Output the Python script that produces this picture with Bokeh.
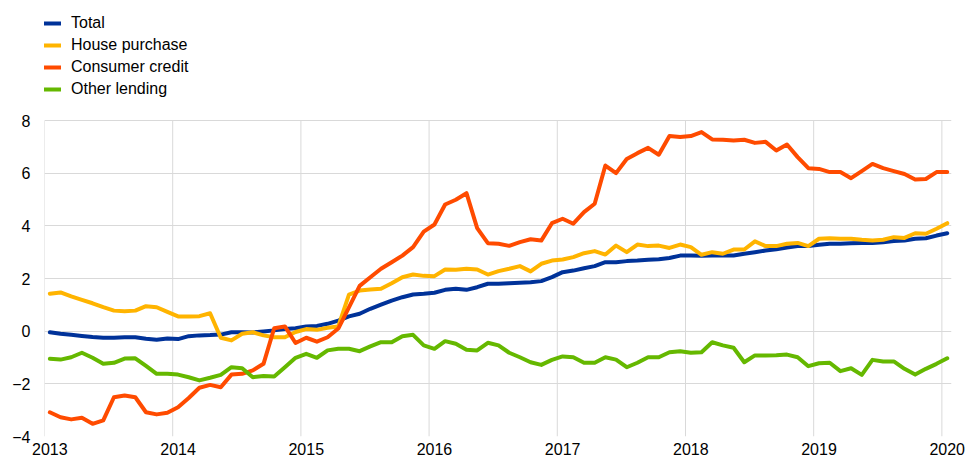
from bokeh.plotting import figure
from bokeh.models import FixedTicker, Legend, LegendItem, Range1d
from bokeh.embed import file_html
from bokeh.resources import INLINE

# ---- data (monthly, Jan 2013 - Jan 2020, annual growth rates in %) ----
start_year = 2013
year_ticks = [2013, 2014, 2015, 2016, 2017, 2018, 2019, 2020]
year_labels = ["2013", "2014", "2015", "2016", "2017", "2018", "2019", "2020"]
y_ticks = [-4, -2, 0, 2, 4, 6, 8]

series_names = ["Total", "House purchase", "Consumer credit", "Other lending"]

total = [
    -0.04, -0.10, -0.14, -0.18, -0.22, -0.25, -0.25, -0.23, -0.23, -0.29, -0.33, -0.28,
    -0.30, -0.19, -0.16, -0.15, -0.13, -0.04, -0.04, -0.05, -0.01, 0.03, 0.08, 0.11,
    0.18, 0.20, 0.28, 0.40, 0.56, 0.66, 0.85, 1.01, 1.16, 1.29, 1.39, 1.42,
    1.46, 1.57, 1.61, 1.57, 1.67, 1.80, 1.80, 1.82, 1.84, 1.86, 1.90, 2.05,
    2.24, 2.30, 2.39, 2.47, 2.62, 2.62, 2.66, 2.68, 2.71, 2.73, 2.78, 2.87,
    2.87, 2.86, 2.87, 2.87, 2.87, 2.94, 3.00, 3.06, 3.11, 3.18, 3.23, 3.23,
    3.28, 3.32, 3.32, 3.34, 3.35, 3.35, 3.38, 3.42, 3.44, 3.51, 3.53, 3.63,
    3.72,
]

house_purchase = [
    1.42, 1.47, 1.32, 1.19, 1.06, 0.91, 0.78, 0.76, 0.78, 0.95, 0.91, 0.73,
    0.56, 0.56, 0.57, 0.68, -0.25, -0.35, -0.10, -0.04, -0.16, -0.23, -0.23, -0.03,
    0.08, 0.05, 0.13, 0.18, 1.39, 1.54, 1.58, 1.61, 1.82, 2.05, 2.15, 2.10,
    2.09, 2.34, 2.33, 2.37, 2.34, 2.15, 2.28, 2.37, 2.47, 2.27, 2.56, 2.68,
    2.72, 2.81, 2.96, 3.04, 2.91, 3.25, 3.00, 3.29, 3.23, 3.25, 3.16, 3.29,
    3.19, 2.90, 3.00, 2.94, 3.10, 3.10, 3.41, 3.23, 3.23, 3.32, 3.35, 3.23,
    3.51, 3.53, 3.51, 3.51, 3.47, 3.44, 3.47, 3.57, 3.54, 3.72, 3.70, 3.89,
    4.10,
]

consumer_credit = [
    -3.08, -3.27, -3.35, -3.29, -3.52, -3.39, -2.51, -2.44, -2.51, -3.08, -3.16, -3.10,
    -2.89, -2.54, -2.15, -2.04, -2.13, -1.65, -1.62, -1.49, -1.24, 0.11, 0.18, -0.45,
    -0.25, -0.40, -0.23, 0.10, 0.90, 1.72, 2.05, 2.37, 2.62, 2.87, 3.19, 3.78,
    4.05, 4.81, 4.99, 5.24, 3.91, 3.34, 3.32, 3.24, 3.38, 3.49, 3.44, 4.10,
    4.27, 4.08, 4.52, 4.84, 6.29, 6.00, 6.54, 6.76, 6.96, 6.70, 7.41, 7.37,
    7.41, 7.56, 7.28, 7.27, 7.24, 7.27, 7.15, 7.19, 6.86, 7.09, 6.61, 6.19,
    6.16, 6.04, 6.04, 5.81, 6.08, 6.35, 6.19, 6.08, 5.97, 5.76, 5.78, 6.04,
    6.04,
]

other_lending = [
    -1.05, -1.08, -0.99, -0.82, -1.01, -1.24, -1.20, -1.04, -1.03, -1.32, -1.62, -1.62,
    -1.65, -1.75, -1.87, -1.77, -1.66, -1.37, -1.41, -1.75, -1.70, -1.72, -1.37, -1.01,
    -0.86, -1.01, -0.73, -0.67, -0.67, -0.76, -0.58, -0.42, -0.42, -0.19, -0.14, -0.54,
    -0.67, -0.38, -0.48, -0.71, -0.73, -0.44, -0.54, -0.82, -0.99, -1.18, -1.28, -1.09,
    -0.96, -0.99, -1.20, -1.20, -0.99, -1.08, -1.37, -1.20, -0.99, -0.99, -0.80, -0.76,
    -0.82, -0.80, -0.42, -0.54, -0.63, -1.18, -0.92, -0.92, -0.91, -0.89, -0.99, -1.33,
    -1.22, -1.20, -1.52, -1.41, -1.66, -1.09, -1.15, -1.15, -1.43, -1.65, -1.43, -1.24,
    -1.03,
]

colors = ["#003299", "#FFB400", "#FF4B00", "#65B800"]
grid_color = "#d9d9d9"

# monthly positions (mid-month) in decimal years
x = [start_year + (m + 0.5) / 12 for m in range(len(total))]
label_x = [yr + 0.5 / 12 for yr in year_ticks]

FONT = "Liberation Sans"

# frame spans from the legend area down to the -4 line; the upper part holds the legend
px_per_unit = 316 / 12.0
y_top = y_ticks[-1] + 110 / px_per_unit

p = figure(
    output_backend="svg",
    toolbar_location=None,
    x_range=Range1d(2013, 2020.075),
    y_range=Range1d(y_ticks[0], y_top),
    frame_width=907,
    frame_height=426,
    min_border_left=44,
    min_border_right=14,
    min_border_top=10,
    min_border_bottom=25,
    background_fill_color="white",
    border_fill_color="white",
    outline_line_color=None,
)

# vertical year grid lines, limited to the value range
n = len(year_ticks)
p.segment(x0=year_ticks, y0=[y_ticks[0]] * n, x1=year_ticks, y1=[y_ticks[-1]] * n,
          line_color=grid_color, line_width=1, level="underlay")

renderers = []
for ys, c in zip([total, house_purchase, consumer_credit, other_lending], colors):
    r = p.line(x, ys, line_color=c, line_width=4, line_join="round", line_cap="round")
    renderers.append(r)

# axes
p.xaxis.ticker = FixedTicker(ticks=label_x)
p.xaxis.major_label_overrides = {lx: lab for lx, lab in zip(label_x, year_labels)}
p.yaxis.ticker = FixedTicker(ticks=y_ticks)
for ax in (p.xaxis[0], p.yaxis[0]):
    ax.major_tick_line_color = None
    ax.minor_tick_line_color = None
    ax.major_tick_out = 0
    ax.major_tick_in = 0
    ax.axis_line_color = None
    ax.major_label_text_font = FONT
    ax.major_label_text_font_size = "16px"
    ax.major_label_text_color = "#000000"
p.xaxis.major_label_standoff = 6
p.yaxis.major_label_standoff = 14

p.xgrid.visible = False
p.ygrid.ticker = FixedTicker(ticks=y_ticks)
p.ygrid.grid_line_color = grid_color
p.ygrid.grid_line_width = 1

legend = Legend(
    items=[LegendItem(label=nm, renderers=[r]) for nm, r in zip(series_names, renderers)],
    location=(0, 337),
    orientation="vertical",
    padding=0,
    margin=0,
    spacing=2,
    glyph_width=17,
    glyph_height=20,
    label_height=20,
    label_standoff=10,
    label_text_font=FONT,
    label_text_font_size="16px",
    label_text_color="#000000",
    border_line_color=None,
    background_fill_alpha=0,
)
p.add_layout(legend, "center")

open("out.html", "w").write(file_html(p, INLINE))
